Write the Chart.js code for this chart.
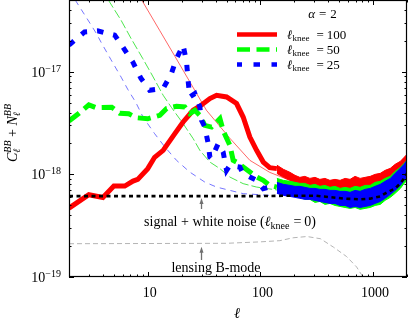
<!DOCTYPE html>
<html><head><meta charset="utf-8">
<script src="https://cdn.jsdelivr.net/npm/chart.js@4.4.1/dist/chart.umd.min.js"></script>
<style>html,body{margin:0;padding:0;background:#fff;overflow:hidden}canvas{display:block}</style>
</head><body>
<canvas id="c" width="409" height="319"></canvas>
<script>
const FONT = '"Liberation Serif", "DejaVu Serif", serif';

// ---- data (multipole ell, C_ell^BB + N_ell^BB) ----
const redL = [2,3,4,5,6.25,7.4,8.15,10,11.5,13.7,14.7,17.4,20.6,25.3,29,35.6,40.8,50.1,61.4,70.3,80.6,92.5,106,121,140];
const redV = [4.69e-19,6.34e-19,5.96e-19,7.69e-19,7.69e-19,8.60e-19,8.94e-19,1.137e-18,1.466e-18,1.714e-18,1.918e-18,2.495e-18,3.24e-18,4.21e-18,4.61e-18,5.48e-18,5.90e-18,5.68e-18,4.90e-18,3.62e-18,2.31e-18,1.714e-18,1.318e-18,1.163e-18,1.137e-18];

const greenL = [2,2.39,3,3.48,4.79,5.64,6.78,7.98,10,12.8,14.7,18,21.3,23.6,26.2,29,32.1,36.8,43.7,46.7,50.1,53.6,57.3,61.4,70.3,80.6,92.5,106,121,140];
const greenV = [3.31e-18,3.85e-18,4.76e-18,4.47e-18,4.50e-18,3.94e-18,3.89e-18,3.56e-18,3.48e-18,3.76e-18,4.38e-18,4.61e-18,4.54e-18,3.91e-18,4.21e-18,3.76e-18,3.0e-18,2.89e-18,3.49e-18,2.68e-18,2.25e-18,1.918e-18,1.37e-18,1.318e-18,1.178e-18,1.053e-18,0.941e-18,0.874e-18,0.781e-18,0.752e-18];

const blueL = [2,2.75,3.59,5.09,6.0,7.36,8.72,10.4,13.7,16.2,18.0,20.6,22.1,22.8,23.6,26.2,29.0,30.0,32.1,34.4,35.6,36.8,42.2,46.7,50.1,53.6,65.7,70.3,80.6,92.5,106,121,140];
const blueV = [1.814e-17,2.445e-17,2.50e-17,2.27e-17,1.746e-17,1.246e-17,8.58e-18,6.60e-18,6.86e-18,9.60e-18,1.345e-17,1.814e-17,1.246e-17,8.26e-18,5.68e-18,6.13e-18,4.54e-18,3.36e-18,2.89e-18,1.993e-18,1.475e-18,1.423e-18,1.993e-18,1.651e-18,1.094e-18,1.224e-18,1.178e-18,1.016e-18,0.941e-18,0.874e-18,0.725e-18,0.752e-18,0.725e-18];

// noisy high-ell envelopes (upper / lower edge of each scattered band)
const bandL = [140,160,183,203,224,248,275,305,337,374,414,459,509,564,625,692,767,849,943,1042,1158,1279,1422,1569,1746,1886,2000];
const redHi = [1.23e-18,1.12e-18,1.046e-18,0.978e-18,0.935e-18,0.956e-18,0.914e-18,0.935e-18,0.894e-18,0.914e-18,0.874e-18,0.894e-18,0.874e-18,0.914e-18,0.894e-18,0.956e-18,0.914e-18,0.935e-18,0.956e-18,1.000e-18,1.023e-18,1.094e-18,1.144e-18,1.252e-18,1.339e-18,1.465e-18,1.567e-18];
const redLo = [1.023e-18,0.935e-18,0.874e-18,0.817e-18,0.781e-18,0.764e-18,0.747e-18,0.730e-18,0.714e-18,0.698e-18,0.698e-18,0.683e-18,0.683e-18,0.683e-18,0.698e-18,0.698e-18,0.714e-18,0.714e-18,0.747e-18,0.764e-18,0.799e-18,0.836e-18,0.894e-18,0.956e-18,1.046e-18,1.144e-18,1.224e-18];
const greenHi = [0.914e-18,0.874e-18,0.855e-18,0.836e-18,0.817e-18,0.817e-18,0.781e-18,0.799e-18,0.764e-18,0.781e-18,0.747e-18,0.764e-18,0.730e-18,0.747e-18,0.730e-18,0.764e-18,0.747e-18,0.781e-18,0.781e-18,0.836e-18,0.855e-18,0.914e-18,0.956e-18,1.070e-18,1.170e-18,1.280e-18,1.370e-18];
const greenLo = [0.698e-18,0.653e-18,0.638e-18,0.610e-18,0.597e-18,0.571e-18,0.571e-18,0.533e-18,0.545e-18,0.510e-18,0.521e-18,0.498e-18,0.487e-18,0.476e-18,0.466e-18,0.476e-18,0.456e-18,0.466e-18,0.476e-18,0.498e-18,0.510e-18,0.558e-18,0.597e-18,0.653e-18,0.730e-18,0.817e-18,0.874e-18];
const blueHi = [0.836e-18,0.799e-18,0.781e-18,0.764e-18,0.764e-18,0.747e-18,0.730e-18,0.730e-18,0.714e-18,0.714e-18,0.698e-18,0.698e-18,0.683e-18,0.683e-18,0.668e-18,0.698e-18,0.683e-18,0.714e-18,0.730e-18,0.764e-18,0.799e-18,0.855e-18,0.914e-18,1.023e-18,1.144e-18,1.252e-18,1.370e-18];
const blueLo = [0.653e-18,0.624e-18,0.610e-18,0.597e-18,0.584e-18,0.571e-18,0.571e-18,0.558e-18,0.545e-18,0.533e-18,0.521e-18,0.521e-18,0.498e-18,0.498e-18,0.476e-18,0.487e-18,0.476e-18,0.487e-18,0.498e-18,0.521e-18,0.545e-18,0.584e-18,0.638e-18,0.698e-18,0.781e-18,0.874e-18,0.935e-18];

// thin model curves
const redThinL = [8.84,12.8,17.4,23.6,33.2,53.6,80.6,121,183,249,414];
const redThinV = [5.0e-17,2.51e-17,1.416e-17,7.99e-18,4.21e-18,2.245e-18,1.37e-18,1.046e-18,8.74e-19,7.99e-19,6.98e-19];
const greenThinL = [4.47,5.79,7.11,9.03,10.8,13.7,16.2,20.6,25.3,29.0,35.6,43.7,53.6,70.3,92.5,149];
const greenThinV = [5.0e-17,3.18e-17,2.11e-17,1.345e-17,9.5e-18,5.9e-18,4.5e-18,3.12e-18,2.23e-18,1.714e-18,1.318e-18,1.137e-18,9.41e-19,8.12e-19,7.52e-19,6.98e-19];
const blueThinL = [2.27,2.83,3.50,3.85,4.69,5.81,6.64,7.82,9.08,11.5,14.2,18.0,23.6,32.1,40.8,53.6,70.3,121];
const blueThinV = [5.0e-17,3.42e-17,2.36e-17,1.94e-17,1.324e-17,8.84e-18,6.75e-18,5.04e-18,3.62e-18,2.495e-18,1.846e-18,1.37e-18,1.053e-18,8.41e-19,7.52e-19,6.98e-19,6.49e-19,6.24e-19];

// signal + white noise (ell_knee = 0)
const sigL = [2,100,183,305,414,564,767,943,1158,1283,1569,1746,1886,2000];
const sigV = [6.14e-19,6.14e-19,6.2e-19,6.2e-19,6.0e-19,5.8e-19,5.71e-19,5.8e-19,6.1e-19,6.53e-19,7.3e-19,8.17e-19,9.14e-19,1.02e-18];
// lensing B-mode
const lensL = [2,50,100,149,195,259,341,446,583,715,818,870];
const lensV = [2.11e-19,2.13e-19,2.2e-19,2.26e-19,2.41e-19,2.48e-19,2.36e-19,1.95e-19,1.58e-19,1.25e-19,9.9e-20,9.0e-20];

// axes
const xTickVals = [10,100,1000];
const xTickLabels = ['10','100','1000'];
const yTickVals = [1e-19,1e-18,1e-17];
const yTickExps = ['\u221219','\u221218','\u221217'];
const legendKnee = ['100','50','25'];

const pts = (L,V) => L.map((l,i)=>({x:l,y:V[i]}));
const RED='#ff0000', GREEN='#00ff00', BLUE='#0000ff';

function font(s,i,w){return (i?'italic ':'')+(w||'normal')+' '+s+'px '+FONT;}
function richWidth(ctx,parts){let w=0;for(const p of parts){if(p.gap){w+=p.gap;continue;}ctx.font=font(p.s||14,p.i,p.w);if(p.sup!==undefined){w+=Math.max(ctx.measureText(p.sup).width,ctx.measureText(p.sub).width);}else w+=ctx.measureText(p.t).width;}return w;}
function drawRich(ctx,parts,x,y,align){const W=richWidth(ctx,parts);let cx=align==='center'?x-W/2:align==='right'?x-W:x;ctx.textAlign='left';ctx.textBaseline='alphabetic';
 for(const p of parts){if(p.gap){cx+=p.gap;continue;}ctx.font=font(p.s||14,p.i,p.w);
  if(p.sup!==undefined){ctx.fillText(p.sup,cx,y+(p.up||-5));ctx.fillText(p.sub,cx,y+(p.down||3));cx+=Math.max(ctx.measureText(p.sup).width,ctx.measureText(p.sub).width);}
  else{ctx.fillText(p.t,cx,y+(p.dy||0));cx+=ctx.measureText(p.t).width;}}}

function arrow(ctx,x,y0,y1){ // from y0 (tail) up to y1 (tip)
 ctx.strokeStyle='#707070';ctx.fillStyle='#707070';ctx.lineWidth=1.3;ctx.setLineDash([]);
 ctx.beginPath();ctx.moveTo(x,y0);ctx.lineTo(x,y1+4);ctx.stroke();
 ctx.beginPath();ctx.moveTo(x,y1);ctx.lineTo(x-2,y1+6);ctx.lineTo(x+2,y1+6);ctx.closePath();ctx.fill();}

const decor={id:'decor',afterDraw(chart){
 const {ctx,chartArea:a,scales:{x,y}}=chart;ctx.save();
 ctx.setLineDash([]);ctx.strokeStyle='#000';ctx.lineWidth=1.2;
 ctx.strokeRect(a.left+0.5,a.top+0.5,a.right-a.left-1,a.bottom-a.top-1);
 ctx.lineWidth=1;
 for(let d=1;d<=1000;d*=10)for(let k=1;k<10;k++){const v=k*d;if(v<2||v>2000)continue;const px=Math.round(x.getPixelForValue(v))+0.5;const len=k===1?5:2.5;
  ctx.beginPath();ctx.moveTo(px,a.bottom);ctx.lineTo(px,a.bottom-len);ctx.moveTo(px,a.top);ctx.lineTo(px,a.top+len);ctx.stroke();}
 for(let e=-19;e<=-17;e++)for(let k=1;k<10;k++){const v=k*Math.pow(10,e);if(v>5.01e-17)continue;const py=Math.round(y.getPixelForValue(v))+0.5;const len=k===1?5:2.5;
  ctx.beginPath();ctx.moveTo(a.left,py);ctx.lineTo(a.left+len,py);ctx.moveTo(a.right,py);ctx.lineTo(a.right-len,py);ctx.stroke();}
 ctx.fillStyle='#000';
 xTickVals.forEach((v,i)=>{const px=x.getPixelForValue(v);drawRich(ctx,[{t:xTickLabels[i],s:14}],px+2,296.5,'center');});
 yTickVals.forEach((v,i)=>{const py=y.getPixelForValue(v);drawRich(ctx,[{t:'10',s:14},{t:yTickExps[i],s:10,dy:-5}],61,py+5,'right');});
 drawRich(ctx,[{t:'\u2113',s:15,i:true}],237,317.5,'center');
 ctx.save();ctx.translate(16.5,133);ctx.rotate(-Math.PI/2);
 drawRich(ctx,[{t:'C',s:14,i:true},{sup:'BB',sub:'\u2113',s:10,i:true,up:-6,down:3.5},{t:' + ',s:14},{t:'N',s:14,i:true},{sup:'BB',sub:'\u2113',s:10,i:true,up:-6,down:3.5}],0,0,'center');
 ctx.restore();
 const ax=x.getPixelForValue(30);
 arrow(ctx,ax,209,y.getPixelForValue(sigV[0])+2);
 arrow(ctx,ax,260,y.getPixelForValue(lensV[0])+3);
 ctx.fillStyle='#000';
 drawRich(ctx,[{t:'signal + white noise (',s:14},{t:'\u2113',s:14,i:true},{t:'knee',s:10,dy:3},{gap:4},{t:'=',s:14},{gap:3},{t:'0)',s:14}],230,226,'center');
 drawRich(ctx,[{t:'lensing B-mode',s:14}],216,272,'center');
 drawRich(ctx,[{t:'\u03b1',s:13,i:true},{gap:4},{t:'=',s:13},{gap:4},{t:'2',s:13}],322.5,18.3,'center');
 const rows=[{c:RED,d:[],w:4.5},{c:GREEN,d:[13,6.5],w:4.5},{c:BLUE,d:[6.5,11.5],w:4.5,off:1.5}];
 rows.forEach((r,i)=>{const yy=34.5+15*i;ctx.strokeStyle=r.c;ctx.lineWidth=r.w;ctx.setLineDash(r.d);ctx.lineDashOffset=r.off||0;
  ctx.beginPath();ctx.moveTo(237,yy);ctx.lineTo(277,yy);ctx.stroke();ctx.setLineDash([]);ctx.lineDashOffset=0;
  ctx.fillStyle='#000';
  drawRich(ctx,[{t:'\u2113',s:13,i:true},{t:'knee',s:9,dy:2.5},{gap:7},{t:'=',s:13},{gap:3},{t:legendKnee[i],s:13}],287,yy+4,'left');});
 ctx.restore();}};

new Chart(document.getElementById('c'),{type:'line',
 data:{datasets:[
  {label:'signal + white noise',data:pts(sigL,sigV),borderColor:'#000',borderWidth:2.6,borderDash:[4,3.5],order:0,fill:false},
  {label:'knee25',data:pts(blueL,blueV),borderColor:BLUE,borderWidth:5,borderDash:[6.5,10],order:1,fill:false},
  {label:'b lo',data:pts(bandL,blueLo),borderColor:BLUE,borderWidth:1,order:3,fill:false},
  {label:'b hi',data:pts(bandL,blueHi),borderColor:BLUE,borderWidth:1,backgroundColor:BLUE,order:2,fill:'-1'},
  {label:'knee50',data:pts(greenL,greenV),borderColor:GREEN,borderWidth:5,borderDash:[13,6.5],order:4,fill:false},
  {label:'g lo',data:pts(bandL,greenLo),borderColor:GREEN,borderWidth:1,order:6,fill:false},
  {label:'g hi',data:pts(bandL,greenHi),borderColor:GREEN,borderWidth:1,backgroundColor:GREEN,order:5,fill:'-1'},
  {label:'knee100',data:pts(redL,redV),borderColor:RED,borderWidth:5,order:7,fill:false},
  {label:'r lo',data:pts(bandL,redLo),borderColor:RED,borderWidth:1,order:9,fill:false},
  {label:'r hi',data:pts(bandL,redHi),borderColor:RED,borderWidth:1,backgroundColor:RED,order:8,fill:'-1'},
  {label:'red model',data:pts(redThinL,redThinV),borderColor:'rgba(255,0,0,0.6)',borderWidth:1,order:10,fill:false},
  {label:'green model',data:pts(greenThinL,greenThinV),borderColor:'rgba(0,220,0,0.7)',borderWidth:1,borderDash:[9,3],order:11,fill:false},
  {label:'blue model',data:pts(blueThinL,blueThinV),borderColor:'rgba(60,60,255,0.7)',borderWidth:1,borderDash:[6,5],order:12,fill:false},
  {label:'lensing',data:pts(lensL,lensV),borderColor:'#b4b4b4',borderWidth:1,borderDash:[5,3],order:13,fill:false}
 ]},
 options:{responsive:false,animation:false,devicePixelRatio:1,
  layout:{padding:{left:69,right:2,top:0,bottom:42}},
  plugins:{legend:{display:false},tooltip:{enabled:false}},
  elements:{point:{radius:0},line:{tension:0}},
  scales:{x:{type:'logarithmic',min:2,max:2000,display:false},
          y:{type:'logarithmic',min:1e-19,max:5e-17,display:false}}},
 plugins:[decor]});
</script>
</body></html>
